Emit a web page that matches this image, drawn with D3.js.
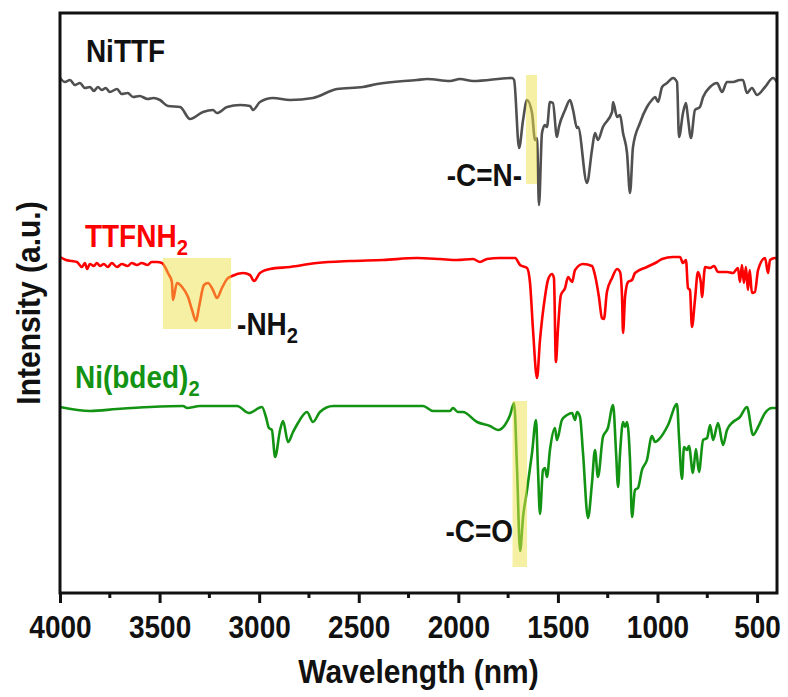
<!DOCTYPE html>
<html>
<head>
<meta charset="utf-8">
<script src="https://cdn.jsdelivr.net/npm/d3@7"></script>
<style>
  html, body { margin: 0; padding: 0; background: #fff; }
  svg text { font-family: "Liberation Sans", Arial, sans-serif; font-weight: bold; }
</style>
</head>
<body>
<svg id="chart" width="788" height="697"></svg>
<script>
// FTIR spectra, stacked with vertical offsets (arbitrary intensity units)
const xTicks = [4000, 3500, 3000, 2500, 2000, 1500, 1000, 500];
const xMinorTicks = [3750, 3250, 2750, 2250, 1750, 1250, 750];

// NiTTF: [wavenumber, intensity]
const nittf = [
  [4000,51.5],[3975,51.1],[3950,51.3],[3925,50.8],[3900,51.0],[3875,50.5],[3849,50.6],[3830,50.2],
  [3810,50.6],[3790,50.3],[3770,50.5],[3750,50.1],[3714,50.4],[3690,49.9],[3660,50.0],[3633,49.6],
  [3600,49.7],[3560,49.4],[3530,49.5],[3498,49.3],[3458,48.7],[3397,48.6],[3347,47.4],[3282,48.1],
  [3232,48.3],[3212,48.0],[3161,48.6],[3096,48.8],[3046,48.7],[3031,48.3],[2996,49.1],[2931,49.5],
  [2845,49.3],[2730,49.5],[2609,50.4],[2479,50.6],[2408,50.9],[2208,51.3],[2157,51.4],[2042,51.2],
  [1992,51.4],[1926,51.2],[1730,51.5],[1720,51.3],[1695,44.5],[1675,47.3],[1655,49.3],[1630,48.0],
  [1615,45.3],[1605,45.5],[1595,38.8],[1580,46.0],[1565,46.8],[1555,46.6],[1540,49.1],[1525,49.0],
  [1505,45.6],[1495,46.6],[1464,48.3],[1439,49.3],[1424,48.3],[1404,46.5],[1399,46.6],[1354,41.0],
  [1329,44.3],[1314,46.0],[1299,45.3],[1274,46.6],[1228,48.1],[1223,49.1],[1203,47.6],[1188,47.8],
  [1173,46.0],[1153,44.0],[1138,40.0],[1123,44.6],[1088,47.0],[1053,48.6],[1028,49.3],[1012,49.6],
  [997,49.1],[977,50.6],[952,51.0],[922,51.5],[902,51.1],[892,45.6],[872,48.0],[857,49.0],
  [847,47.5],[832,45.5],[812,48.3],[787,48.6],[771,49.6],[736,50.6],[701,51.0],[676,50.1],
  [651,51.1],[621,51.1],[586,51.3],[571,51.3],[551,50.0],[526,50.5],[500,49.8],[460,50.6],
  [420,51.5],[400,51.1]
];

// TTFNH2
const ttfnh2 = [
  [4000,33.6],[3970,33.3],[3940,33.2],[3915,33.1],[3890,32.6],[3875,33.0],[3864,32.4],[3850,32.9],
  [3830,32.7],[3815,33.0],[3799,32.7],[3780,32.9],[3760,32.6],[3740,33.0],[3714,32.6],[3690,32.9],
  [3660,32.7],[3640,33.0],[3613,32.8],[3590,33.0],[3560,32.8],[3540,33.1],[3513,33.1],[3488,33.0],
  [3458,32.0],[3438,31.1],[3433,29.3],[3413,31.0],[3387,30.6],[3357,29.6],[3337,28.3],[3317,27.2],
  [3302,28.6],[3277,30.8],[3257,31.0],[3232,30.3],[3212,29.5],[3187,30.5],[3161,31.4],[3136,31.7],
  [3081,32.0],[3046,31.8],[3026,31.2],[2996,32.0],[2946,32.4],[2845,32.6],[2710,33.0],[2544,33.2],
  [2378,33.3],[2208,33.5],[2092,33.4],[2007,33.3],[1926,33.4],[1891,33.1],[1856,33.4],[1791,33.5],
  [1715,33.5],[1690,32.8],[1655,32.5],[1640,31.0],[1625,26.3],[1605,21.5],[1590,25.3],[1565,29.6],
  [1550,31.3],[1530,31.9],[1520,31.5],[1510,23.1],[1500,26.3],[1485,29.8],[1464,30.5],[1449,31.6],
  [1429,31.1],[1414,32.3],[1374,32.9],[1329,32.7],[1314,31.8],[1294,29.6],[1279,27.5],[1269,27.4],
  [1254,30.1],[1228,31.5],[1203,32.4],[1188,32.1],[1178,29.6],[1173,26.0],[1163,29.6],[1148,31.1],
  [1128,31.3],[1113,32.0],[1053,32.6],[1002,33.1],[977,33.4],[922,33.6],[887,33.6],[872,33.0],
  [857,33.3],[847,30.5],[837,30.3],[827,26.6],[812,29.3],[797,32.1],[782,31.0],[777,29.6],
  [761,32.6],[736,32.5],[716,32.7],[696,32.1],[651,32.1],[621,32.0],[596,32.5],[586,31.1],
  [576,32.8],[566,31.0],[556,32.6],[546,30.3],[537,32.3],[526,30.0],[511,30.1],[495,32.3],
  [460,33.5],[445,32.0],[435,33.3],[410,33.5],[400,33.4]
];

// Ni(bded)2
const nibded = [
  [4000,18.6],[3849,18.2],[3714,18.4],[3548,18.6],[3382,18.7],[3362,18.5],[3297,18.7],[3111,18.7],
  [3051,18.0],[2986,18.6],[2966,17.6],[2951,16.5],[2936,16.3],[2920,13.6],[2895,16.3],[2880,17.2],
  [2855,15.1],[2830,16.1],[2805,17.0],[2760,18.1],[2730,17.1],[2695,18.1],[2629,18.7],[2459,18.7],
  [2293,18.7],[2177,18.7],[2127,18.2],[2042,18.2],[2027,18.5],[2002,18.1],[1977,18.1],[1906,17.1],
  [1841,16.7],[1801,16.3],[1766,16.8],[1740,17.8],[1720,19.0],[1705,12.3],[1690,4.2],[1675,7.6],
  [1655,10.3],[1630,14.0],[1610,17.3],[1600,12.3],[1590,7.9],[1575,12.3],[1565,12.5],[1555,11.6],
  [1540,14.3],[1515,16.5],[1505,15.3],[1480,17.3],[1454,17.8],[1429,18.0],[1414,17.3],[1404,18.1],
  [1389,17.6],[1374,14.0],[1349,7.5],[1329,11.0],[1314,14.3],[1299,11.6],[1274,15.6],[1249,16.5],
  [1223,18.8],[1208,14.0],[1198,10.6],[1188,14.0],[1173,17.1],[1163,16.6],[1153,17.1],[1138,13.3],
  [1128,7.6],[1113,10.3],[1098,10.5],[1078,12.3],[1053,13.3],[1028,15.7],[1012,15.1],[987,15.5],
  [947,16.8],[902,18.9],[892,15.6],[877,11.4],[867,14.6],[852,14.3],[842,14.7],[822,12.0],
  [807,14.4],[792,12.1],[771,15.3],[751,15.5],[736,16.8],[721,15.3],[696,17.0],[671,14.8],
  [651,16.3],[621,17.1],[586,17.6],[551,18.6],[520,15.8],[495,16.6],[460,18.0],[425,18.5],
  [400,18.5]
];

const seriesNames = ["NiTTF", "TTFNH2", "Ni(bded)2"];
const seriesColors = ["#505050", "#ff0000", "#139313"];
const labelColors = ["#111111", "#ff0000", "#139313"];
const seriesData = [nittf, ttfnh2, nibded];
// label anchor: [wavenumber, intensity]
const seriesLabelAt = [[3870, 53.1], [3875, 34.6], [3925, 20.5]];

// highlighted bands: [from, to, low, high]
const bands = [[1660, 1605, 40.9, 51.8], [3483, 3141, 26.4, 33.5], [1728, 1655, 2.6, 19.2]];
const bandLabels = ["-C=N-", "-NH2", "-C=O"];
// [wavenumber, intensity, anchor]
const bandLabelAt = [[1680, 40.7, "end"], [3111, 25.8, "start"], [1725, 5.1, "end"]];

const svg = d3.select("#chart");
const m = { left: 60, right: 777, top: 13, bottom: 593 };
const stretch = 1.12;   // glyphs are drawn slightly taller than wide

const x = d3.scaleLinear().domain([4000, 400]).range([m.left, m.right]);
const y = d3.scaleLinear().domain([0, 58]).range([m.bottom, m.top]);

const line = d3.line().x(d => x(d[0])).y(d => y(d[1])).curve(d3.curveMonotoneX);

// spectra
seriesData.forEach((data, i) => {
  svg.append("path")
    .datum(data)
    .attr("d", line)
    .attr("fill", "none")
    .attr("stroke", seriesColors[i])
    .attr("stroke-width", 2.6)
    .attr("stroke-linejoin", "round");
});

// translucent highlight bands over the spectra
svg.append("g").selectAll("rect")
  .data(bands)
  .join("rect")
  .attr("x", d => x(d[0]))
  .attr("width", d => x(d[1]) - x(d[0]))
  .attr("y", d => y(d[3]))
  .attr("height", d => y(d[2]) - y(d[3]))
  .attr("fill", "#eee24a")
  .attr("fill-opacity", 0.5);

// text placed at (px, py), stretched vertically, with an optional trailing subscript "2"
function addText(px, py, s, opts) {
  const t = svg.append("text")
    .attr("transform", `translate(${px},${py}) ${opts.rotate ? "rotate(-90)" : ""} scale(1,${stretch})`)
    .attr("text-anchor", opts.anchor || "start")
    .attr("fill", opts.fill || "#111")
    .attr("font-size", opts.size || 28);
  const mm = opts.sub ? s.match(/^(.*)2$/) : null;
  if (mm) {
    t.append("tspan").text(mm[1]);
    t.append("tspan").attr("dy", 7).attr("font-size", "0.72em").text("2");
  } else {
    t.text(s);
  }
  return t;
}

seriesNames.forEach((name, i) => {
  addText(x(seriesLabelAt[i][0]), y(seriesLabelAt[i][1]), name, { fill: labelColors[i], sub: true });
});

bandLabels.forEach((name, i) => {
  addText(x(bandLabelAt[i][0]), y(bandLabelAt[i][1]), name, { anchor: bandLabelAt[i][2], sub: true });
});

// frame
svg.append("rect")
  .attr("x", m.left).attr("y", m.top)
  .attr("width", m.right - m.left).attr("height", m.bottom - m.top)
  .attr("fill", "none").attr("stroke", "#111").attr("stroke-width", 3);

// x axis
const xAxis = d3.axisBottom(x).tickValues(xTicks).tickSize(10).tickPadding(14).tickFormat(d3.format("d"));
const gx = svg.append("g").attr("transform", `translate(0,${m.bottom})`).call(xAxis);
gx.select(".domain").remove();
gx.selectAll(".tick line").attr("stroke", "#111").attr("stroke-width", 3);
gx.selectAll(".tick text")
  .attr("font-size", 28).attr("fill", "#111")
  .attr("font-family", "'Liberation Sans', Arial, sans-serif").attr("font-weight", "bold")
  .attr("y", 23 / stretch)
  .attr("transform", `scale(1,${stretch})`);

svg.append("g").selectAll("line")
  .data(xMinorTicks)
  .join("line")
  .attr("x1", d => x(d)).attr("x2", d => x(d))
  .attr("y1", m.bottom).attr("y2", m.bottom + 5)
  .attr("stroke", "#111").attr("stroke-width", 3);

// axis titles
addText((m.left + m.right) / 2, 683, "Wavelength (nm)", { anchor: "middle", size: 30 });
addText(40, (m.top + m.bottom) / 2, "Intensity (a.u.)", { anchor: "middle", size: 30, rotate: true });
</script>
</body>
</html>
